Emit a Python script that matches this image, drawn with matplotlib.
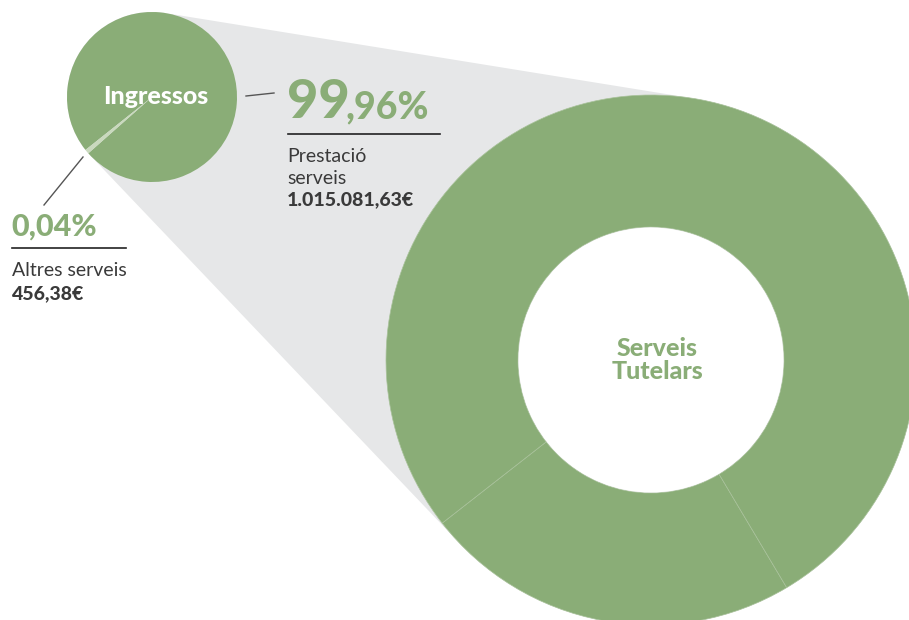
import numpy as np
import matplotlib
matplotlib.use("Agg")
import matplotlib.pyplot as plt
from matplotlib.patches import Wedge, Circle, Polygon

# ---- data ----
pie_labels = ["Prestació serveis", "Altres serveis"]
pie_values = [1015081.63, 456.38]
pie_pct_labels = ["99,96%", "0,04%"]
pie_amount_labels = ["1.015.081,63€", "456,38€"]
pie_title = "Ingressos"
donut_title = "Serveis Tutelars"
donut_values = [23, 77]

GREEN = "#8aad77"
LIGHT = "#c9d9bd"
GREY = "#e6e7e8"
DARK = "#3a3a3a"

W, H = 909, 620
fig = plt.figure(figsize=(W / 100, H / 100), dpi=100)
ax = fig.add_axes([0, 0, 1, 1])
ax.set_xlim(0, W)
ax.set_ylim(0, H)
ax.set_aspect("equal")
ax.axis("off")
plt.rcParams["font.family"] = ["Lato", "DejaVu Sans"]

def py(y):
    return H - y

# geometry (pixels)
sc, sr = (152, py(97)), 85
bc, bR, br = (651, py(360)), 265, 133

# grey connector: convex hull of both circles
t = np.linspace(0, 2 * np.pi, 400)
pts = np.vstack([
    np.c_[sc[0] + sr * np.cos(t), sc[1] + sr * np.sin(t)],
    np.c_[bc[0] + bR * np.cos(t), bc[1] + bR * np.sin(t)],
])
pts = sorted(map(tuple, pts))
def cross(o, a, b):
    return (a[0]-o[0])*(b[1]-o[1]) - (a[1]-o[1])*(b[0]-o[0])
lower, upper = [], []
for p in pts:
    while len(lower) >= 2 and cross(lower[-2], lower[-1], p) <= 0:
        lower.pop()
    lower.append(p)
for p in reversed(pts):
    while len(upper) >= 2 and cross(upper[-2], upper[-1], p) <= 0:
        upper.pop()
    upper.append(p)
hull = lower[:-1] + upper[:-1]
ax.add_patch(Polygon(hull, closed=True, fc=GREY, ec="none", zorder=1))

# small pie
total = sum(pie_values)
center_angle = 220.0
min_deg = 3.0
small_deg = max(360 * pie_values[1] / total, min_deg)
a1 = center_angle - small_deg / 2
a2 = center_angle + small_deg / 2
ax.add_patch(Wedge(sc, sr, a2, a1 + 360, fc=GREEN, ec="none", zorder=2))
ax.add_patch(Wedge(sc, sr, a1, a2, fc=LIGHT, ec="none", zorder=2))
ax.text(sc[0] + 4, sc[1], pie_title, color="white", fontsize=18, fontweight=900,
        ha="center", va="center", zorder=5)

# big donut
start = 218.0
ang = start
for v in donut_values:
    d = 360 * v / sum(donut_values)
    ax.add_patch(Wedge(bc, bR, ang, ang + d, width=bR - br, fc=GREEN,
                       ec="#a9c29b", lw=0.5, zorder=2))
    ang += d
ax.add_patch(Circle(bc, br - 0.5, fc="white", ec="none", zorder=2))
ax.text(bc[0] + 6, bc[1], "Serveis\nTutelars", color=GREEN, fontsize=18,
        fontweight=900, ha="center", va="center", linespacing=1.05, zorder=5)

# 99,96% annotation
ax.plot([246, 274], [py(96), py(93)], color="#555555", lw=1, zorder=4)
big_pct, small_pct = pie_pct_labels[0].split(",")
t1 = ax.text(287, py(118), big_pct, color=GREEN, fontsize=39, fontweight=900,
             ha="left", va="baseline", zorder=5)
fig.canvas.draw()
bb = t1.get_window_extent()
ax.text(bb.x1 - 4, py(118), "," + small_pct, color=GREEN, fontsize=27,
        fontweight=900, ha="left", va="baseline", zorder=5)
ax.plot([288, 440], [py(134), py(134)], color="#222222", lw=1.2, zorder=4)
ax.text(287, py(162), "Prestació", color=DARK, fontsize=14, ha="left",
        va="baseline", zorder=5)
ax.text(287, py(184), "serveis", color=DARK, fontsize=14, ha="left",
        va="baseline", zorder=5)
ax.text(287, py(205), pie_amount_labels[0], color=DARK, fontsize=14,
        fontweight=900, ha="left", va="baseline", zorder=5)

# 0,04% annotation
ax.plot([83, 44], [py(157), py(205)], color="#555555", lw=1, zorder=4)
ax.text(11, py(236), pie_pct_labels[1], color=GREEN, fontsize=22, fontweight=900,
        ha="left", va="baseline", zorder=5)
ax.plot([12, 126], [py(248), py(248)], color="#222222", lw=1.2, zorder=4)
ax.text(12, py(276), "Altres serveis", color=DARK, fontsize=14, ha="left",
        va="baseline", zorder=5)
ax.text(12, py(299), pie_amount_labels[1], color=DARK, fontsize=14,
        fontweight=900, ha="left", va="baseline", zorder=5)

fig.savefig("out.png", dpi=100)
